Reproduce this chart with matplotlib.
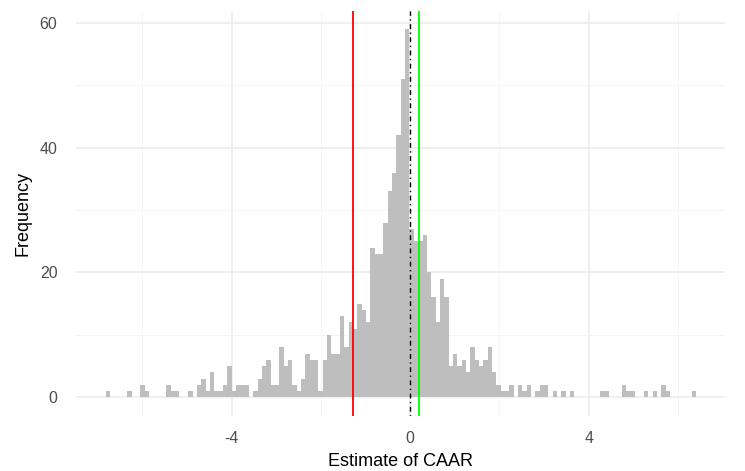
import numpy as np
import matplotlib
matplotlib.use("Agg")
import matplotlib.pyplot as plt

# Histogram of CAAR estimates: bin layout and counts per bin
BIN_START = -6.82
BIN_WIDTH = 0.0972
counts = [
    1, 0, 0, 0, 0, 1, 0, 0, 2, 1, 0, 0, 0, 0, 2, 1, 1, 0, 0, 1, 0,
    2, 3, 1, 4, 1, 1, 2, 5, 1, 2, 2, 2,
    0, 1, 3, 5, 6, 2, 2, 8, 5, 6, 2, 1,
    3, 7, 6, 6, 1, 6, 10, 7, 7, 13, 8, 12,
    11, 15, 14, 12, 24, 23, 23, 28, 33, 36, 42, 51,
    59, 27, 25, 25, 26, 20, 16, 12, 19, 16, 5, 7,
    5, 6, 4, 8, 6, 5, 6, 8, 4, 2, 1, 1,
    2, 0, 2, 1, 2, 0, 1, 2, 2, 0, 1, 0,
    1, 0, 1, 0, 0, 0, 0, 0, 0, 1, 1, 0,
    0, 0, 2, 1, 1, 0, 0, 1, 0, 1, 0, 2,
    1, 0, 0, 0, 0, 0, 1,
]

# Reference lines
red_line = -1.28
green_line = 0.20
zero_line = 0.0

x_major = [-4, 0, 4]
x_minor = [-6, -2, 2, 6]
y_major = [0, 20, 40, 60]
y_minor = [10, 30, 50]

plt.rcParams["font.family"] = ["Liberation Sans", "DejaVu Sans"]
plt.rcParams["axes.unicode_minus"] = False

counts = np.array(counts, dtype=float)
edges = BIN_START + BIN_WIDTH * np.arange(len(counts) + 1)

fig = plt.figure(figsize=(7.45, 4.71), dpi=100)
ax = fig.add_axes([0.1023, 0.1174, 0.8714, 0.8599])

ax.stairs(counts, edges, fill=True, color="#BEBEBE", linewidth=0, zorder=2)

# 5% padding on each side, as in the usual continuous-scale expansion
span = edges[-1] - edges[0]
ax.set_xlim(edges[0] - 0.05 * span, edges[-1] + 0.05 * span)
ymax = counts.max()
ax.set_ylim(-0.05 * ymax, ymax * 1.05)

ax.axvline(red_line, color="#FF0000", lw=1.3, zorder=3)
ax.axvline(green_line, color="#00FF00", lw=1.3, zorder=3)
ax.axvline(zero_line, color="black", lw=1.0, linestyle=(0, (1, 2.5, 3.5, 2.5)), zorder=4)

ax.set_xticks(x_major)
ax.set_xticks(x_minor, minor=True)
ax.set_yticks(y_major)
ax.set_yticks(y_minor, minor=True)
ax.set_xticklabels([str(v) for v in x_major])
ax.set_yticklabels([str(v) for v in y_major])

ax.grid(which="major", color="#EBEBEB", linewidth=1.1, zorder=0)
ax.grid(which="minor", color="#F4F4F4", linewidth=0.6, zorder=0)
ax.set_axisbelow(True)

for s in ax.spines.values():
    s.set_visible(False)
ax.tick_params(which="both", length=0)
ax.tick_params(axis="both", labelsize=11.5, labelcolor="#4D4D4D")
ax.tick_params(axis="x", pad=11)
ax.tick_params(axis="y", pad=13.5)

ax.set_xlabel("Estimate of CAAR", fontsize=13, color="black", labelpad=5)
ax.set_ylabel("Frequency", fontsize=13, color="black", labelpad=6)

fig.savefig("out.png", dpi=100, facecolor="white")
